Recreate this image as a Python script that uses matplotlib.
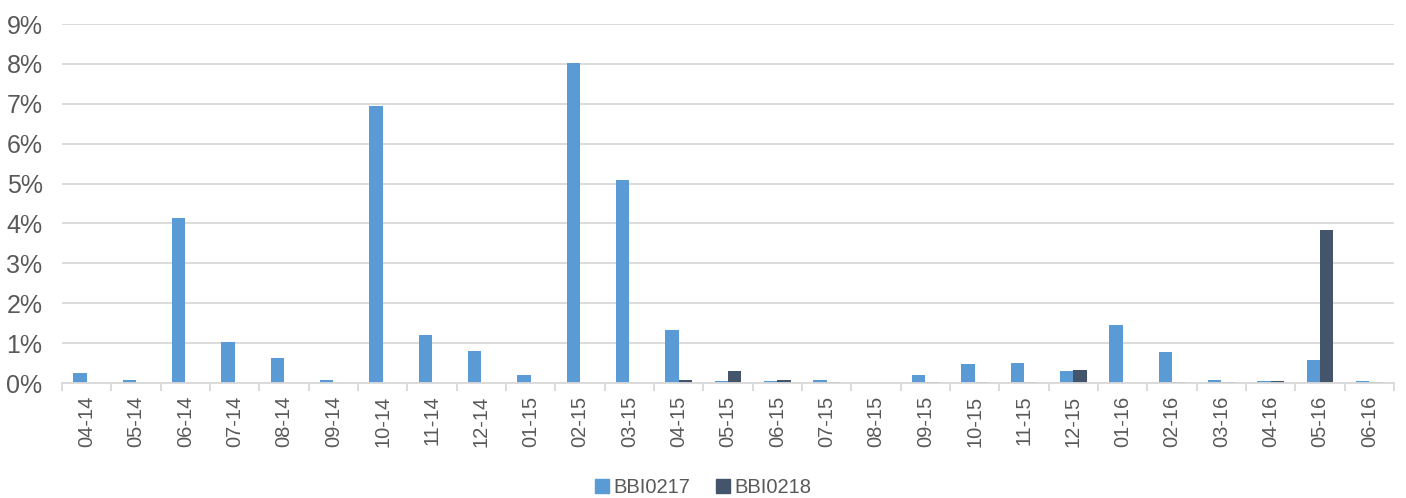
import numpy as np
import matplotlib.pyplot as plt
from matplotlib.patches import Patch
from matplotlib.ticker import FuncFormatter, FixedLocator

plt.rcParams["font.family"] = ["Liberation Sans", "DejaVu Sans"]

months = ["04-14", "05-14", "06-14", "07-14", "08-14", "09-14", "10-14", "11-14",
          "12-14", "01-15", "02-15", "03-15", "04-15", "05-15", "06-15", "07-15",
          "08-15", "09-15", "10-15", "11-15", "12-15", "01-16", "02-16", "03-16",
          "04-16", "05-16", "06-16"]
bbi0217 = [0.25, 0.08, 4.14, 1.03, 0.62, 0.08, 6.94, 1.20, 0.80, 0.20, 8.02, 5.10,
           1.32, 0.04, 0.05, 0.07, 0.0, 0.20, 0.47, 0.50, 0.30, 1.45, 0.78, 0.07,
           0.05, 0.58, 0.06]
bbi0218 = [0.0, 0.0, 0.0, 0.0, 0.0, 0.0, 0.0, 0.0, 0.0, 0.0, 0.0, 0.0,
           0.08, 0.30, 0.07, 0.02, 0.0, 0.03, 0.02, 0.03, 0.33, 0.0, 0.02, 0.02,
           0.05, 3.83, 0.02]

BLUE = "#5B9BD5"
DARK = "#44546A"
GRID = "#D9D9D9"
TEXT = "#595959"

fig = plt.figure(figsize=(14.06, 4.98), dpi=100)
ax = fig.add_axes([62 / 1406, 1 - 383 / 498, 1332 / 1406, 359 / 498])

x = np.arange(len(months))
w = 0.27
ax.bar(x - w / 2, bbi0217, width=w, color=BLUE, label="BBI0217")
ax.bar(x + w / 2, bbi0218, width=w, color=DARK, label="BBI0218")

ax.set_xlim(-0.5, len(months) - 0.5)
ax.set_ylim(0, 9)
ax.set_yticks(range(0, 10))
ax.yaxis.set_major_formatter(FuncFormatter(lambda v, _: f"{v:.0f}%"))
ax.grid(axis="y", color=GRID, linewidth=1.3)
ax.set_axisbelow(True)

ax.set_xticks(x)
ax.set_xticklabels(months, rotation=90, fontsize=14.5, color=TEXT)
ax.tick_params(axis="x", which="major", length=0, pad=9)
ax.xaxis.set_minor_locator(FixedLocator(np.arange(-0.5, len(months), 1)))
ax.tick_params(axis="x", which="minor", length=6, color=GRID, width=1.3)
ax.tick_params(axis="y", length=0, labelsize=18, labelcolor=TEXT, pad=14)

for side in ["top", "right", "left"]:
    ax.spines[side].set_visible(False)
ax.spines["bottom"].set_color(GRID)
ax.spines["bottom"].set_linewidth(1.3)

handles = [Patch(color=BLUE, label="BBI0217"), Patch(color=DARK, label="BBI0218")]
fig.legend(handles=handles, loc="lower center", ncol=2, frameon=False,
           fontsize=14.5, labelcolor=TEXT, handlelength=0.7, handleheight=0.7,
           handletextpad=0.2, columnspacing=1.3, bbox_to_anchor=(0.5, -0.035))

fig.savefig("out.png", dpi=100)
